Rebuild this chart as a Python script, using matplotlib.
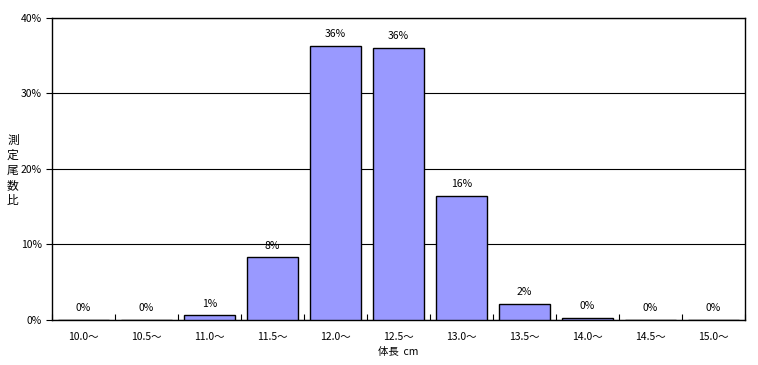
import matplotlib
matplotlib.use("Agg")
from matplotlib import pyplot as plt
import numpy as np

plt.rcParams["font.family"] = ["Noto Sans CJK JP", "DejaVu Sans"]

categories = ["10.0～", "10.5～", "11.0～", "11.5～", "12.0～", "12.5～",
              "13.0～", "13.5～", "14.0～", "14.5～", "15.0～"]
percent = [0, 0, 0.6, 8.3, 36.3, 36.0, 16.4, 2.1, 0.3, 0, 0]
y_ticks = [0, 10, 20, 30, 40]
y_label = "測定尾数比"


def main():
    fig = plt.figure(figsize=(7.58, 3.65), dpi=100, facecolor="w")
    ax = fig.add_axes([0.0686, 0.1233, 0.9144, 0.8274])
    x = np.arange(len(categories))
    ax.bar(x, percent, width=0.8, color="#9999ff", edgecolor="black",
           linewidth=1, zorder=3)
    for xi, v in zip(x, percent):
        ax.text(xi, v + 0.9, "%d%%" % round(v + 1e-9), ha="center",
                va="bottom", fontsize=7.5, zorder=4)

    ax.set_xlim(-0.5, len(categories) - 0.5)
    ax.set_ylim(0, 40)
    ax.set_yticks(y_ticks)
    ax.set_yticklabels(["%d%%" % t for t in y_ticks], fontsize=7.5)
    ax.yaxis.grid(True, color="black", linewidth=0.8, zorder=1)
    ax.tick_params(axis="y", direction="out", length=4, width=0.8)

    ax.set_xticks(x)
    ax.set_xticklabels(categories, fontsize=7.5)
    ax.tick_params(axis="x", which="major", length=0, pad=9)
    ax.set_xticks(np.arange(len(categories) + 1) - 0.5, minor=True)
    ax.tick_params(axis="x", which="minor", direction="in", length=4, width=0.8)

    for s in ax.spines.values():
        s.set_linewidth(1)
        s.set_color("black")

    ax.set_xlabel("体長  cm", fontsize=7.5, labelpad=3)
    # vertical label, one character per line
    for i, ch in enumerate(y_label):
        fig.text(0.017, 0.615 - i * 0.041, ch, fontsize=8.5, ha="center",
                 va="center")

    fig.savefig("out.png", dpi=100, facecolor="w")


if __name__ == "__main__":
    main()
